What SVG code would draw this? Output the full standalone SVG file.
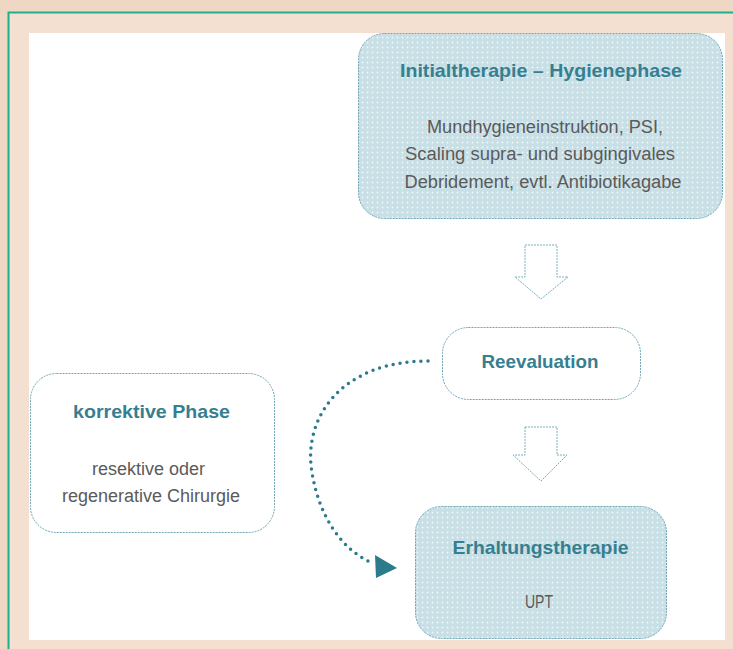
<svg xmlns="http://www.w3.org/2000/svg" width="733" height="649" viewBox="0 0 733 649">
<defs>
<pattern id="dots" width="5" height="5" patternUnits="userSpaceOnUse">
<rect width="5" height="5" fill="#c8dfe6"/>
<circle cx="2.5" cy="2.5" r="0.9" fill="#f2f8fa"/>
</pattern>
<style>
.box{stroke:#6fa6b6;stroke-width:1;stroke-dasharray:2 1}
.fillbox{fill:url(#dots)}
.whitebox{fill:#ffffff}
.title{font-family:"Liberation Sans Narrow","Liberation Sans",Arial,sans-serif;font-weight:bold;font-size:19px;fill:#357f91;text-anchor:middle}
.body{font-family:"Liberation Sans Narrow","Liberation Sans",Arial,sans-serif;font-size:18px;fill:#5a5a5a;text-anchor:middle}
.bigarrow{fill:#ffffff;stroke:#7aaebd;stroke-width:1;stroke-dasharray:2 1}
</style>
</defs>
<rect x="0" y="0" width="733" height="649" fill="#efd8c3"/>
<rect x="8" y="12" width="725" height="637" fill="#f3e0d0"/>
<path d="M8.5,649 L8.5,12.5 L733,12.5" fill="none" stroke="#1fae8e" stroke-width="2"/>
<rect x="29" y="33" width="696" height="607" fill="#ffffff"/>

<g id="connectors">
<path class="bigarrow" d="M525,245 L557,245 L557,277 L568,277 L541,299 L515,277 L525,277 Z"/>
<path class="bigarrow" d="M525,427 L557,427 L557,455 L567,455 L541,481 L513,455 L525,455 Z"/>
<path d="M428,361 C340,361 300,420 313,478 C320,515 340,548 370,562" fill="none" stroke="#2b7b8c" stroke-width="3.5" stroke-linecap="round" stroke-dasharray="0 7"/>
<path d="M375,555 L397,568 L376,578 Z" fill="#2b7b8c"/>
</g>

<g id="initialtherapie">
<rect class="box fillbox" x="358.5" y="33.5" width="364" height="185" rx="26"/>
<text class="title" x="541" y="77" textLength="282" lengthAdjust="spacingAndGlyphs">Initialtherapie – Hygienephase</text>
<text class="body" x="545" y="133" textLength="236" lengthAdjust="spacingAndGlyphs">Mundhygieneinstruktion, PSI,</text>
<text class="body" x="540" y="160" textLength="270" lengthAdjust="spacingAndGlyphs">Scaling supra- und subgingivales</text>
<text class="body" x="543" y="188" textLength="277" lengthAdjust="spacingAndGlyphs">Debridement, evtl. Antibiotikagabe</text>
</g>

<g id="reevaluation">
<rect class="box whitebox" x="442.5" y="327.5" width="198" height="72" rx="26"/>
<text class="title" x="540" y="368" textLength="117" lengthAdjust="spacingAndGlyphs">Reevaluation</text>
</g>

<g id="korrektive">
<rect class="box whitebox" x="30.5" y="373.5" width="244" height="159" rx="26"/>
<text class="title" x="151.5" y="418" textLength="157" lengthAdjust="spacingAndGlyphs">korrektive Phase</text>
<text class="body" x="148.5" y="475" textLength="113" lengthAdjust="spacingAndGlyphs">resektive oder</text>
<text class="body" x="151" y="502" textLength="178" lengthAdjust="spacingAndGlyphs">regenerative Chirurgie</text>
</g>

<g id="erhaltungstherapie">
<rect class="box fillbox" x="415.5" y="506.5" width="251" height="132" rx="26"/>
<text class="title" x="540.5" y="554" textLength="176" lengthAdjust="spacingAndGlyphs">Erhaltungstherapie</text>
<text class="body" x="539" y="608" textLength="28" lengthAdjust="spacingAndGlyphs">UPT</text>
</g>
</svg>
